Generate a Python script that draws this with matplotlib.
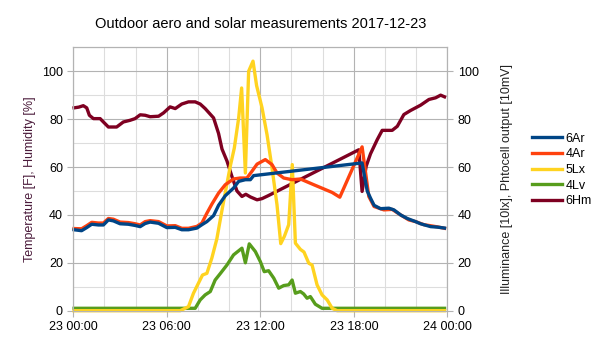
import matplotlib.pyplot as plt
from matplotlib.ticker import MultipleLocator

plt.rcParams['font.family'] = ['Liberation Sans', 'DejaVu Sans']

# czas w godzinach od 23 00:00
hm_hours = [0.05, 0.35, 0.64, 0.86, 1.03, 1.29, 1.72, 1.93, 2.25, 2.78, 3.21, 3.64, 3.96,
            4.29, 4.61, 4.93, 5.47, 5.79, 6.21, 6.54, 6.96, 7.39, 7.82, 8.14, 8.46, 9.0,
            9.32, 9.54, 9.86, 10.18, 10.5, 10.82, 11.07, 11.36, 11.79, 12.11, 12.5, 18.32,
            18.53, 18.79, 19.07, 19.5, 19.82, 20.46, 20.79, 21.21, 21.64, 21.96, 22.28,
            22.82, 23.25, 23.57, 23.82]
hm_vals = [84.7, 85.0, 85.6, 84.7, 81.6, 80.2, 80.2, 78.8, 76.7, 76.7, 78.8, 79.5, 80.2,
           81.8, 81.6, 81.0, 81.2, 82.6, 85.1, 84.4, 86.3, 87.2, 87.2, 86.3, 84.4, 80.5,
           74.0, 67.5, 62.5, 56.0, 50.0, 47.7, 48.6, 47.5, 46.3, 46.8, 48.0, 67.2,
           49.8, 60.3, 65.5, 71.4, 75.3, 75.3, 77.0, 81.9, 83.6, 84.7, 85.8,
           88.2, 88.9, 90.0, 89.3]

ar6_hours = [0.05, 0.53, 0.86, 1.18, 1.61, 1.93, 2.25, 2.57, 3.0, 3.53, 3.96, 4.29, 4.61,
             4.93, 5.47, 6.0, 6.54, 6.96, 7.39, 7.93, 8.25, 8.57, 9.0, 9.32, 9.75, 10.28,
             10.61, 11.04, 11.36, 11.57, 18.53, 18.86, 19.07, 19.3, 19.71, 20.25, 20.57,
             21.0, 21.43, 21.96, 22.28, 22.93, 23.36, 23.82]
ar6_vals = [33.8, 33.4, 34.7, 36.1, 35.8, 35.8, 37.9, 37.5, 36.3, 36.1, 35.6, 35.1, 36.4,
            37.0, 36.5, 34.7, 34.8, 33.8, 33.8, 34.5, 35.9, 37.2, 39.7, 44.0, 48.0, 51.2,
            54.0, 54.7, 54.7, 56.4, 61.7, 50.0, 47.0, 44.0, 42.6, 42.8, 42.1,
            40.0, 38.5, 37.2, 36.3, 35.1, 34.9, 34.5]

ar4_hours = [0.05, 0.53, 0.86, 1.18, 1.61, 1.93, 2.25, 2.57, 3.0, 3.53, 3.96, 4.29, 4.61,
             4.93, 5.47, 6.0, 6.54, 6.96, 7.39, 7.93, 8.25, 8.57, 8.89, 9.32, 9.75, 10.28,
             10.71, 11.14, 11.46, 11.79, 12.32, 12.75, 13.07, 13.5, 14.04, 14.57, 15.43,
             16.6, 17.1, 18.53, 18.96, 19.3, 19.93, 20.46, 21.0, 21.53, 21.96, 22.5,
             22.9, 23.36, 23.82]
ar4_vals = [34.3, 34.2, 35.5, 36.9, 36.6, 36.6, 38.5, 38.2, 37.0, 36.8, 36.3, 35.8, 37.2,
            37.6, 37.2, 35.4, 35.5, 34.4, 34.4, 35.2, 36.6, 40.7, 44.5, 49.1, 52.6, 55.0,
            55.4, 55.4, 58.2, 61.2, 63.1, 61.0, 57.5, 55.4, 54.7, 55.0, 52.6,
            49.4, 47.4, 68.4, 47.7, 43.5, 42.1, 42.3, 40.0, 37.9, 37.2, 35.9,
            35.5, 35.0, 34.4]

lx_hours = [0.05, 6.86, 7.39, 7.71, 8.03, 8.29, 8.57, 8.89, 9.21, 9.54, 10.07, 10.33,
            10.61, 10.8, 11.04, 11.25, 11.53, 11.76, 12.11, 12.43, 12.75, 13.07, 13.31,
            13.54, 13.82, 14.05, 14.25, 14.57, 14.8, 15.11, 15.32, 15.64, 15.96, 16.29,
            16.61, 16.93, 23.82]
lx_vals = [0, 0, 1.7, 7.3, 11.5, 14.9, 15.6, 22.0, 30.0, 42.0, 60.3, 67.9,
           80.5, 93.0, 57.5, 100.0, 104.2, 94.0, 84.7, 73.5, 59.6, 44.2, 28.0,
           31.0, 35.9, 61.0, 28.2, 25.6, 24.5, 19.8, 19.1, 10.8, 6.6, 4.5,
           1.0, 0, 0]

lv_hours = [0.05, 7.82, 8.14, 8.46, 8.79, 9.1, 9.43, 9.86, 10.28, 10.82, 11.04, 11.29,
            11.68, 12.0, 12.25, 12.53, 12.86, 13.18, 13.5, 13.82, 14.04, 14.25, 14.57,
            14.78, 15.0, 15.21, 15.53, 15.96, 23.82]
lv_vals = [1, 1, 4.5, 6.6, 8.0, 12.8, 15.5, 19.1, 23.3, 26.1, 20.0, 27.9,
           24.7, 20.5, 16.3, 16.7, 13.6, 9.4, 10.5, 10.8, 12.8, 7.3, 8.0,
           7.0, 5.2, 5.9, 2.7, 1, 1]

x_ticks = [0, 6, 12, 18, 24]
x_labels = ['23 00:00', '23 06:00', '23 12:00', '23 18:00', '24 00:00']

fig = plt.figure(figsize=(6.05, 3.4), dpi=100)
ax = fig.add_axes([0.1212, 0.0862, 0.6182, 0.7748])
ax2 = ax.twinx()

lw = 2.4
series = [
    ('6Ar', ar6_hours, ar6_vals, '#004586', 6),
    ('4Ar', ar4_hours, ar4_vals, '#ff420e', 5),
    ('5Lx', lx_hours, lx_vals, '#ffd320', 4),
    ('4Lv', lv_hours, lv_vals, '#579d1c', 3),
    ('6Hm', hm_hours, hm_vals, '#7e0021', 2),
]
handles = []
for name, xs, ys, col, z in series:
    line, = ax.plot(xs, ys, color=col, lw=lw, label=name, zorder=z,
                    clip_on=False, solid_joinstyle='round')
    handles.append(line)

for a in (ax, ax2):
    a.set_xlim(0, 24)
    a.set_ylim(0, 110)
    a.yaxis.set_major_locator(MultipleLocator(20))
    for s in a.spines.values():
        s.set_color('#b3b3b3')
    a.tick_params(colors='#b3b3b3', labelcolor='black', labelsize=9, length=4)

ax.yaxis.set_minor_locator(MultipleLocator(10))
ax.xaxis.set_minor_locator(MultipleLocator(2))
ax.set_xticks(x_ticks)
ax.set_xticklabels(x_labels)
ax.tick_params(which='minor', length=0)
ax.grid(True, which='major', color='#b3b3b3', lw=0.8)
ax.grid(True, which='minor', color='#dddddd', lw=0.8)
ax.set_axisbelow(True)

ax.set_ylabel('Temperature [F], Humidity [%]', fontsize=9, color='#4a1a3a')
ax2.set_ylabel('Illuminance [10lx], Phtocell output [10mV]', fontsize=9,
               color='#222222', labelpad=16)
ax.set_title('Outdoor aero and solar measurements 2017-12-23', fontsize=10.5, pad=14)

fig.legend(handles=handles, loc='center left', bbox_to_anchor=(0.879, 0.5),
           frameon=False, fontsize=9, handlelength=2.4, handletextpad=0.3,
           labelspacing=0.3, borderpad=0, borderaxespad=0)

fig.savefig('out.png', dpi=100)
